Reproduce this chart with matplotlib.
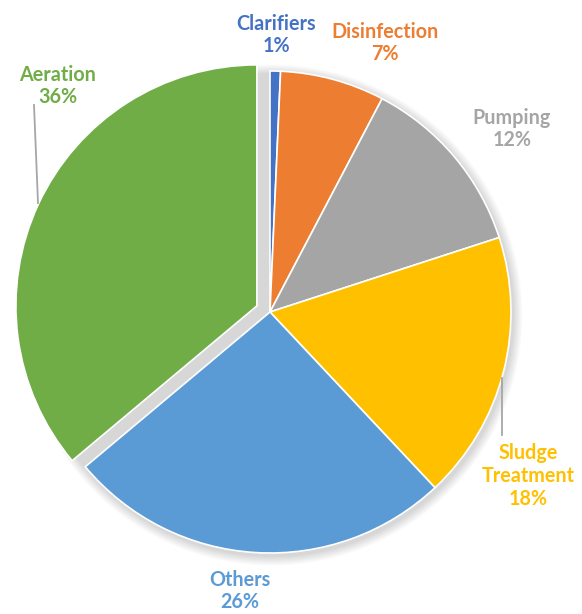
import matplotlib.pyplot as plt
from matplotlib.patches import Circle

# energy use by process
labels = ['Clarifiers', 'Disinfection', 'Pumping', 'Sludge\nTreatment', 'Others', 'Aeration']
shares = [0.7, 7.0, 12.3, 18.0, 25.9, 36.1]
colors = ['#4472C4', '#ED7D31', '#A5A5A5', '#FFC000', '#5B9BD5', '#70AD47']
pull_out = [0, 0, 0, 0, 0, 0.06]   # fraction of radius

# label anchors in pixel space (x, y from top)
label_pos = [(276, 35), (385, 43), (512, 129), (528, 476), (240, 591), (58, 86)]

W, H = 582, 614
fig = plt.figure(figsize=(W / 100, H / 100), dpi=100)
ax = fig.add_axes([0, 0, 1, 1])

cx, cy, r = 270, H - 312, 241

# soft shadow behind the pie
for i in range(8):
    ax.add_patch(Circle((cx + 2, cy - 3), r + 1 + i * 1.2, color='#000000',
                        alpha=0.018, lw=0, zorder=0))

# pie() offsets exploded wedges in data units, so scale by radius
wedges, _ = ax.pie(shares, colors=colors, explode=[p * r for p in pull_out],
                   startangle=90, counterclock=False, center=(cx, cy), radius=r,
                   wedgeprops=dict(edgecolor='white', linewidth=1.2))
for w in wedges:
    w.set_zorder(2)

for lab, val, col, (x, y) in zip(labels, shares, colors, label_pos):
    ax.text(x, H - y, f'{lab}\n{val:.0f}%', ha='center', va='center',
            color=col, fontsize=14.2, fontweight='bold', family='Lato',
            linespacing=1.18, zorder=3)

# leader lines
ax.plot([34, 38], [H - 105, H - 203], color='#A6A6A6', lw=1.3, zorder=3)
ax.plot([502, 502], [H - 378, H - 435], color='#A6A6A6', lw=1.3, zorder=3)

ax.set_xlim(0, W)
ax.set_ylim(0, H)
ax.set_aspect('equal')
ax.axis('off')

fig.savefig('out.png', dpi=100)
